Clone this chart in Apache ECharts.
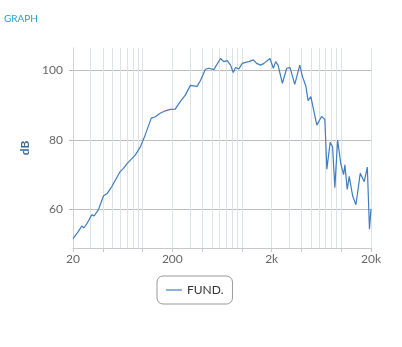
<!DOCTYPE html>
<html>
<head>
<meta charset="utf-8">
<script src="https://cdn.jsdelivr.net/npm/echarts@6/dist/echarts.min.js"></script>
<style>
  html, body { margin: 0; padding: 0; background: #fff; }
  #chart { width: 402px; height: 347px; }
</style>
</head>
<body>
<div id="chart"></div>
<script>
// frequency response
const freqs = [20, 22.6, 24.5, 25.8, 27.5, 30.9, 32.6, 36, 40.5, 44.4, 49.2, 59.7, 64.4, 70.7, 84.6, 95.1,
  106.7, 122.7, 134.7, 151, 170, 191, 214, 223, 241, 270, 304, 355, 384, 431, 466, 523, 611, 659, 714, 771,
  821, 866, 935, 1011, 1092, 1180, 1307, 1410, 1548, 1672, 1922, 2080, 2193, 2317, 2565, 2837, 3064, 3416,
  3836, 4084, 4409, 4655, 4956, 5700, 6356, 6859, 7191, 7763, 8207, 8656, 9223, 9957, 10600, 10920, 11530,
  12080, 13070, 14100, 15590, 17110, 18360, 19300, 20000]
const fundDb = [51.7, 53.7, 55.3, 54.8, 55.9, 58.5, 58.2, 59.9, 63.9, 64.7, 66.6, 70.9, 71.8, 73.3, 75.6, 77.9,
  81.4, 86.2, 86.6, 87.6, 88.3, 88.7, 88.8, 88.5, 91.0, 92.8, 95.6, 95.3, 97.0, 100.2, 100.5, 100.1, 103.3, 102.4, 102.7, 101.4,
  99.3, 100.7, 100.3, 101.9, 102.2, 102.4, 102.9, 101.9, 101.4, 101.9, 103.3, 100.5, 102.4, 101.4, 96.2, 100.5, 100.7, 95.9,
  101.4, 98.1, 95.5, 91.2, 92.4, 84.2, 86.7, 85.8, 71.6, 79.3, 78.0, 66.3, 79.9, 73.0, 70.0, 72.8, 65.8,
  69.5, 63.9, 61.4, 70.4, 68.0, 72.2, 54.4, 60.2]

const xLabels = [20, 200, 2000, 20000]
const xTicks = [20, 40, 100, 200, 400, 1000, 2000, 4000, 10000, 20000]
const xGrid = [20, 30, 40, 50, 60, 70, 80, 90, 100, 200, 300, 400, 500, 600, 700, 800, 900,
  1000, 2000, 3000, 4000, 5000, 6000, 7000, 8000, 9000, 10000, 20000]
const yLabels = [60, 80, 100]

const chart = echarts.init(document.getElementById('chart'))

const fmtHz = v => v >= 1000 ? (v / 1000) + 'k' : String(v)

chart.setOption({
  animation: false,
  textStyle: { fontFamily: 'Lato' },
  title: {
    text: 'GRAPH',
    left: 4,
    top: 14,
    padding: 0,
    textStyle: { color: '#2a9dd0', fontSize: 10, fontWeight: 'normal', fontFamily: 'Lato' }
  },
  legend: {
    data: ['FUND.'],
    left: 157,
    top: 276,
    padding: [8, 9, 8, 9],
    borderColor: '#999',
    borderWidth: 1,
    borderRadius: 6,
    itemWidth: 16,
    itemHeight: 2,
    itemGap: 5,
    icon: 'rect',
    itemStyle: { color: '#8db3d8' },
    textStyle: { color: '#333', fontSize: 12, fontFamily: 'Lato' }
  },
  grid: { left: 73, right: 31, top: 48, bottom: 99, containLabel: false },
  xAxis: [
    {
      type: 'log',
      logBase: 10,
      min: 20,
      max: 20000,
      axisLine: { show: true, lineStyle: { color: '#c8c8c8' } },
      axisTick: { show: false, customValues: xGrid },
      axisLabel: {
        customValues: xLabels,
        formatter: fmtHz,
        color: '#666',
        fontSize: 12,
        margin: 5
      },
      splitLine: { show: true, lineStyle: { color: '#dde2e8', width: 1 } },
      minorSplitLine: { show: false }
    },
    {
      type: 'log',
      logBase: 10,
      min: 20,
      max: 20000,
      position: 'bottom',
      axisLine: { show: false },
      axisTick: { show: true, length: 4, customValues: xTicks, lineStyle: { color: '#c8c8c8' } },
      axisLabel: { show: false },
      splitLine: { show: false }
    }
  ],
  yAxis: {
    type: 'value',
    min: 49,
    max: 106.3,
    name: 'dB',
    nameLocation: 'middle',
    nameGap: 39,
    nameRotate: 90,
    nameTextStyle: { color: '#3d6b94', fontWeight: 'bold', fontSize: 12, fontFamily: 'Lato' },
    axisLine: { show: true, lineStyle: { color: '#d0d0d0' } },
    axisTick: { show: true, length: 4, customValues: yLabels, lineStyle: { color: '#b8b8b8' } },
    axisLabel: { customValues: yLabels, color: '#666', fontSize: 12, margin: 10 },
    splitLine: { show: true, lineStyle: { color: '#bdbdbd', width: 1 } }
  },
  series: [
    {
      name: 'FUND.',
      type: 'line',
      xAxisIndex: 0,
      data: freqs.map((f, i) => [f, fundDb[i]]),
      showSymbol: false,
      lineStyle: { color: '#3f7dbd', width: 1.2 },
      itemStyle: { color: '#3f7dbd' },
      z: 5
    }
  ]
})
</script>
</body>
</html>
